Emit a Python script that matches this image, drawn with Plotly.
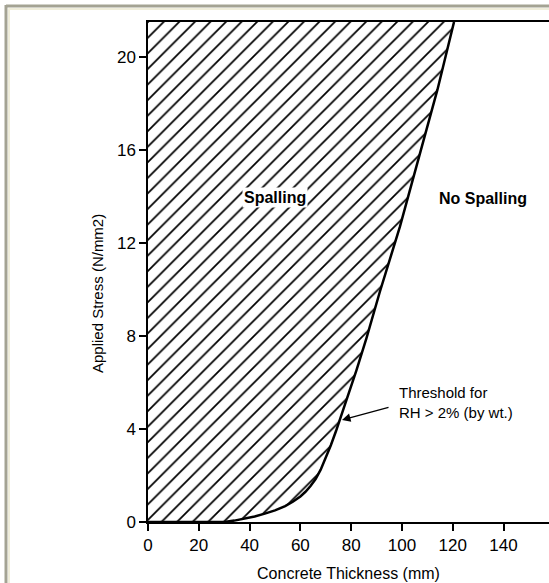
import plotly.graph_objects as go

# Threshold curve (Concrete thickness mm, Applied stress N/mm2)
thickness = [0, 20, 30, 34, 38, 42, 46, 50, 54, 57, 60, 62, 64, 66, 68, 70, 72, 74, 76, 78.7,
             82, 86, 91.3, 99.2, 107, 114, 120.5]
stress = [0, 0, 0.0, 0.06, 0.14, 0.24, 0.36, 0.5, 0.68, 0.87, 1.1, 1.3, 1.55, 1.85, 2.25, 2.75,
          3.3, 3.9, 4.55, 5.4, 6.5, 7.9, 9.9, 12.7, 15.8, 18.6, 21.5]

x_ticks = [0, 20, 40, 60, 80, 100, 120, 140]
y_ticks = [0, 4, 8, 12, 16, 20]
y_top = 21.5
x_max = 157.9

W, H = 549, 583
ML, MR, MT, MB = 148, 0, 22, 61
PW, PH = W - ML - MR, H - MT - MB

def px(xp):
    return (xp - ML) / PW

def py(yp):
    return (H - MB - yp) / PH

fig = go.Figure()

# Hatched spalling region
fig.add_trace(go.Scatter(
    x=thickness + [0, 0],
    y=stress + [y_top, 0],
    fill="toself",
    fillcolor="white",
    fillpattern=dict(shape="/", size=11, solidity=0.16, fgcolor="black", bgcolor="white", fgopacity=1),
    line=dict(width=0),
    mode="lines",
    hoverinfo="skip",
    showlegend=False,
))

# Threshold curve
fig.add_trace(go.Scatter(
    x=thickness, y=stress, mode="lines",
    line=dict(color="black", width=2.5),
    showlegend=False,
))

fnt = "Liberation Sans, Arial, Helvetica, sans-serif"

fig.update_layout(
    width=W, height=H,
    margin=dict(l=ML, r=MR, t=MT, b=MB, pad=0),
    paper_bgcolor="white", plot_bgcolor="white",
    font=dict(family=fnt, color="black"),
    xaxis=dict(
        range=[0, x_max], tickvals=x_ticks, ticktext=[str(v) for v in x_ticks],
        showgrid=False, zeroline=False, showline=True, linecolor="black", linewidth=1.5,
        mirror=True, ticks="outside", ticklen=7, tickwidth=1.5, tickcolor="black",
        tickfont=dict(size=17, family=fnt),
        title=dict(text="Concrete Thickness (mm)", font=dict(size=16, family=fnt), standoff=14),
    ),
    yaxis=dict(
        range=[0, y_top], tickvals=y_ticks, ticktext=[str(v) for v in y_ticks],
        showgrid=False, zeroline=False, showline=True, linecolor="black", linewidth=1.5,
        ticks="outside", ticklen=7, tickwidth=1.5, tickcolor="black",
        tickfont=dict(size=17, family=fnt),
    ),
)

fig.add_annotation(xref="paper", yref="paper", x=px(97), y=py(294), text="Applied Stress (N/mm2)",
                   textangle=-90, showarrow=False, xanchor="center", yanchor="middle",
                   font=dict(size=15, family=fnt))
fig.add_annotation(x=50, y=13.95, text="<b>Spalling</b>", showarrow=False,
                   font=dict(size=16, family=fnt), bgcolor="white")
fig.add_annotation(x=132, y=13.9, text="<b>No Spalling</b>", showarrow=False,
                   font=dict(size=16, family=fnt))
fig.add_annotation(x=98, y=5.15, text="Threshold for<br>RH > 2% (by wt.)", showarrow=False,
                   xanchor="left", yanchor="middle", align="left",
                   font=dict(size=15, family=fnt))
fig.add_annotation(x=76.4, y=4.39, ax=95.3, ay=4.95, axref="x", ayref="y",
                   text="", showarrow=True, arrowhead=2, arrowsize=1.3, arrowwidth=1.3,
                   arrowcolor="black", standoff=0)

# window frame lines
fig.add_shape(type="line", xref="paper", yref="paper", x0=px(6), x1=px(W), y0=py(6), y1=py(6),
              line=dict(color="#a4a393", width=3), layer="above")
fig.add_shape(type="line", xref="paper", yref="paper", x0=px(6), x1=px(6), y0=py(5), y1=py(H),
              line=dict(color="#a4a393", width=3), layer="above")
fig.add_shape(type="line", xref="paper", yref="paper", x0=px(8.5), x1=px(W), y0=py(9), y1=py(9),
              line=dict(color="#efedda", width=2), layer="above")
fig.add_shape(type="line", xref="paper", yref="paper", x0=px(9), x1=px(9), y0=py(8.5), y1=py(H),
              line=dict(color="#efedda", width=2), layer="above")

fig.write_html("out.html")
